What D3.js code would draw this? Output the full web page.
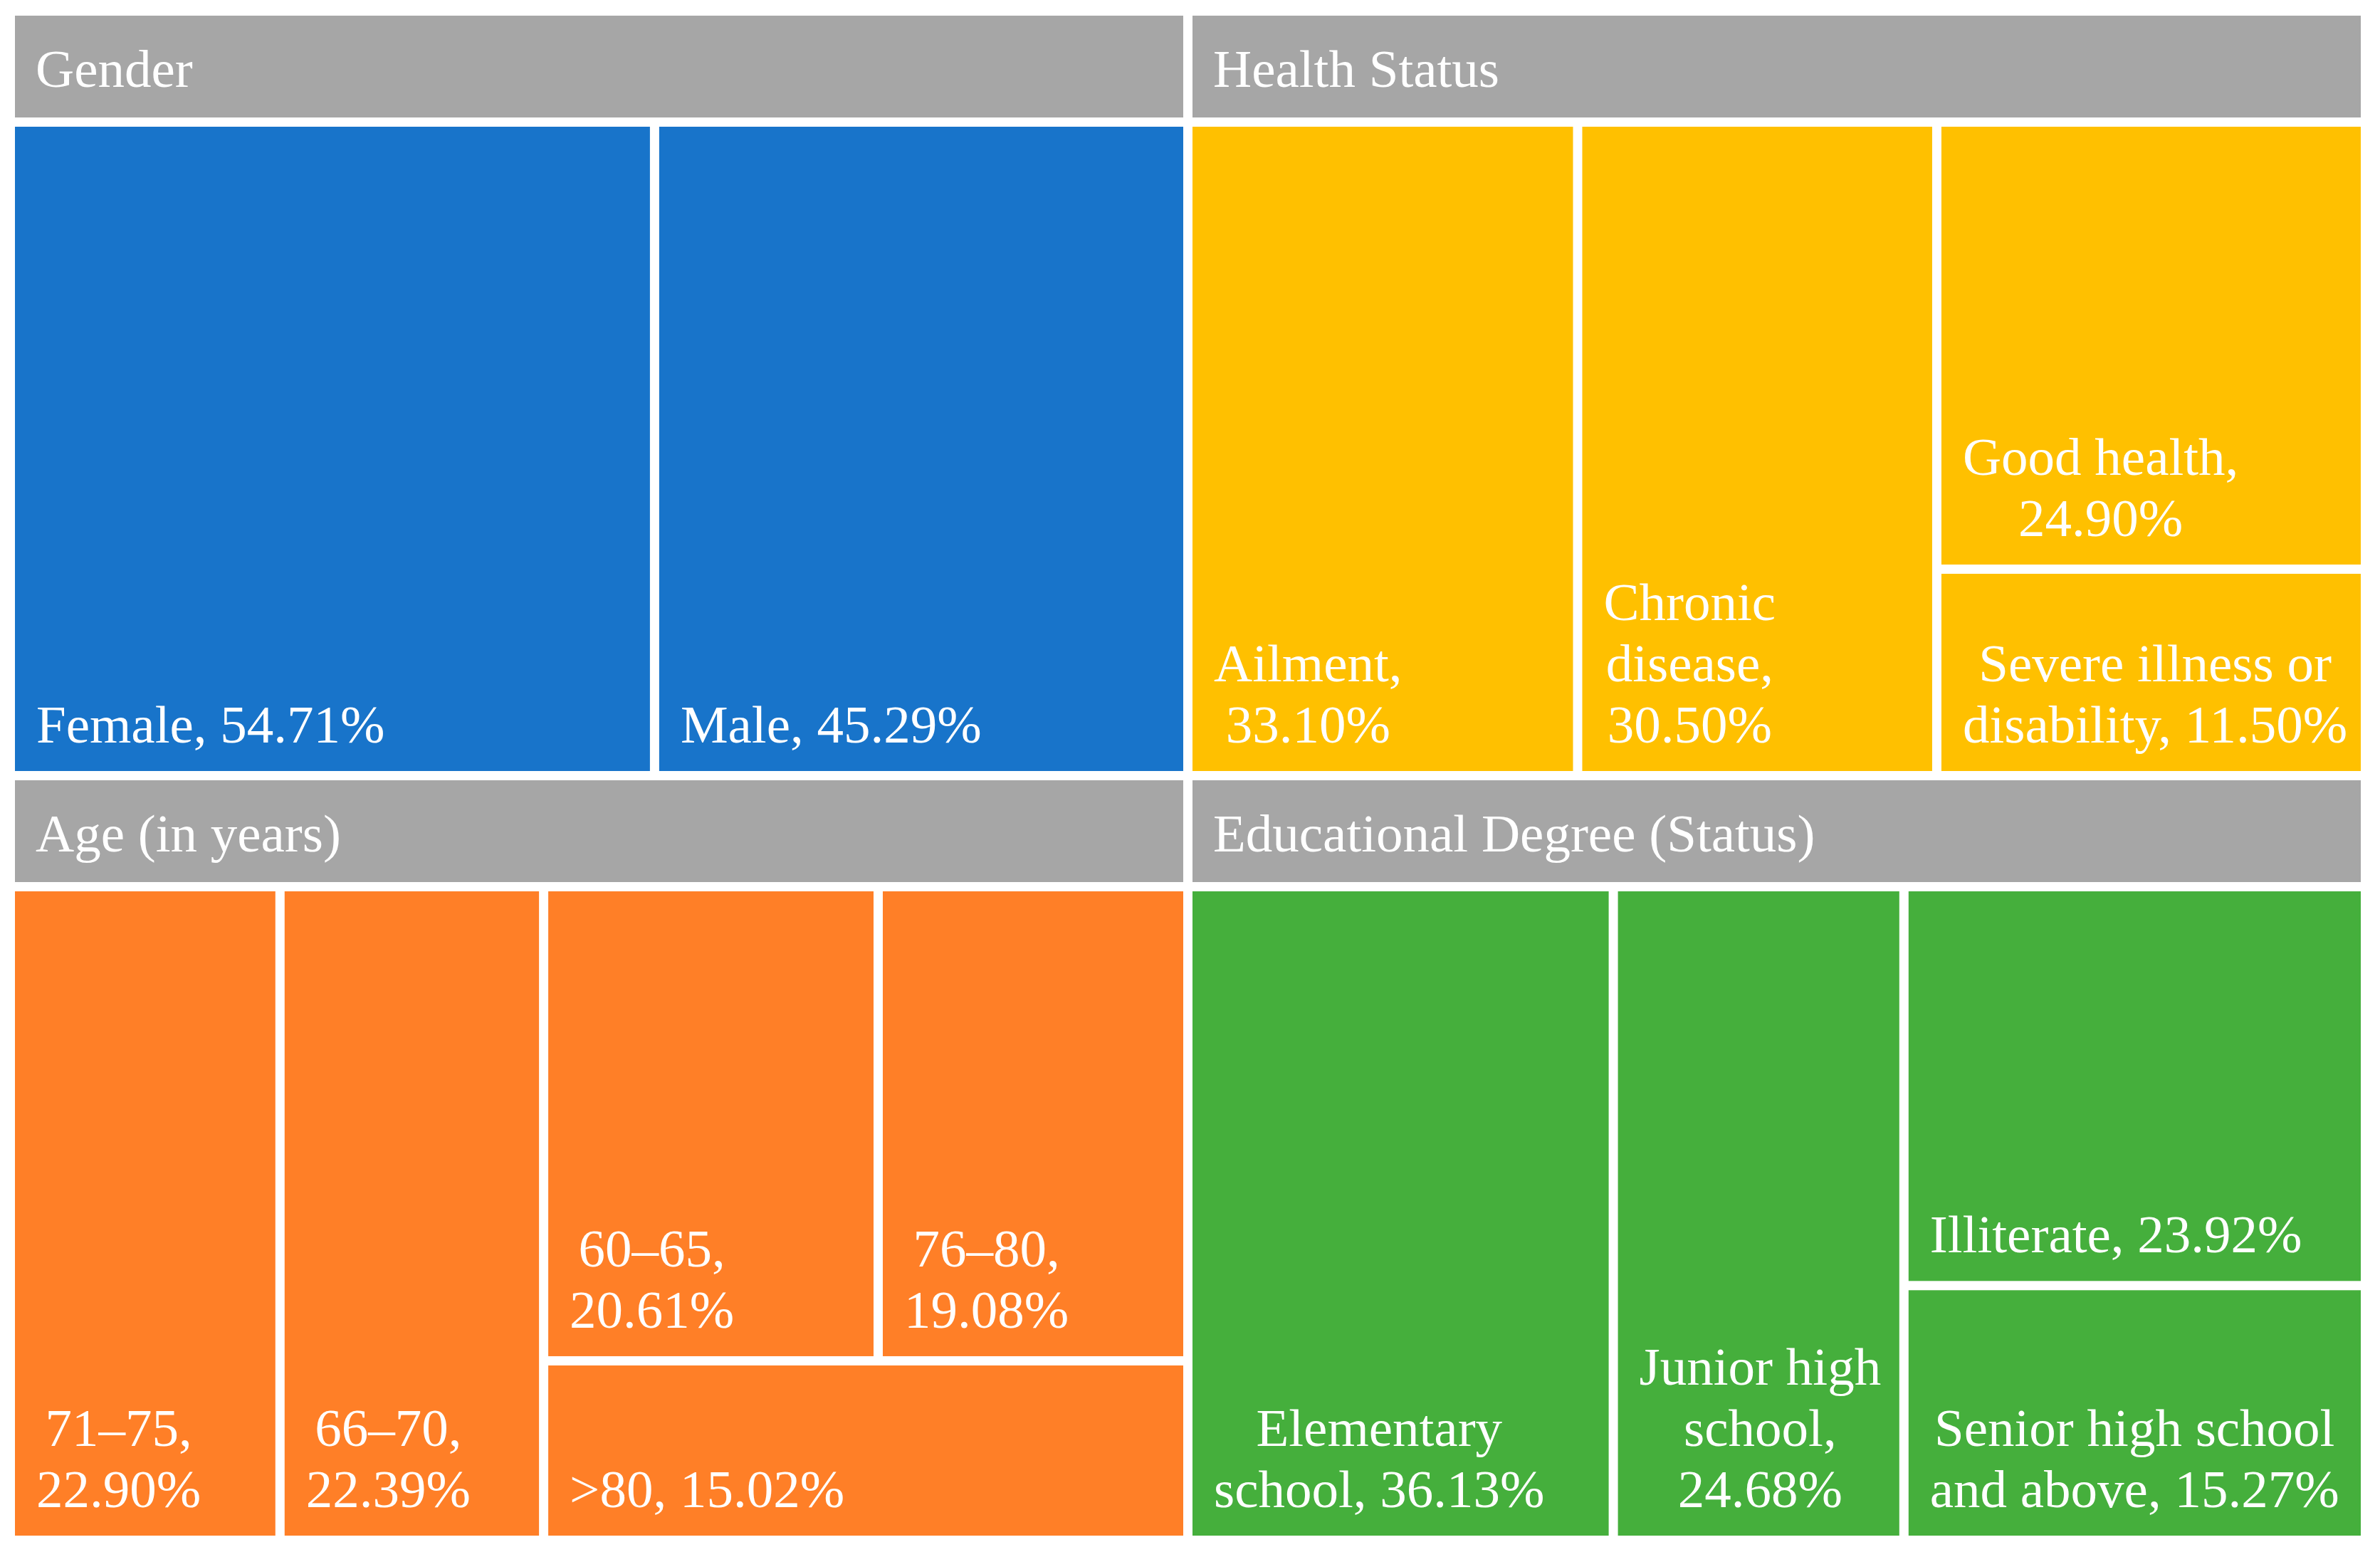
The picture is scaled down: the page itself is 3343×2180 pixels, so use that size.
<!DOCTYPE html>
<html>
<head>
<meta charset="utf-8">
<script src="https://cdn.jsdelivr.net/npm/d3@7"></script>
<style>
  body { margin: 0; background: #fff; }
  svg { display: block; }
</style>
</head>
<body>
<svg id="chart" width="3343" height="2180"></svg>
<script>
// group names, in the order the treemap places them
var groups = ['Gender', 'Age (in years)', 'Health Status', 'Educational Degree (Status)'];
var groupColors = ['#1874CA', '#FF7F27', '#FFC000', '#45AF3C'];

var genderLabels = ['Female', 'Male'];
var genderValues = [54.71, 45.29];

var ageLabels = ['71\u201375', '66\u201370', '60\u201365', '76\u201380', '>80'];
var ageValues = [22.90, 22.39, 20.61, 19.08, 15.02];

var healthLabels = ['Ailment', 'Chronic disease', 'Good health', 'Severe illness or disability'];
var healthValues = [33.10, 30.50, 24.90, 11.50];

var eduLabels = ['Elementary school', 'Junior high school', 'Illiterate', 'Senior high school and above'];
var eduValues = [36.13, 24.68, 23.92, 15.27];

var allLabels = [genderLabels, ageLabels, healthLabels, eduLabels];
var allValues = [genderValues, ageValues, healthValues, eduValues];

var width = 3343, height = 2180;
var margin = {top: 22, right: 27, bottom: 23, left: 21};
var headerH = 143, gap = 13;
var fontSize = 75, lineH = 86, pad = 30;

// d3's squarify clamps ratio to >= 1, excel seems to prefer taller strips,
// so same algorithm with a ratio below 1
function squarifyR(ratio) {
  return function(parent, x0, y0, x1, y1) {
    var nodes = parent.children, i0 = 0, i1 = 0, n = nodes.length, value = parent.value;
    while (i0 < n) {
      var dx = x1 - x0, dy = y1 - y0, sumValue, nodeValue;
      do sumValue = nodes[i1++].value; while (!sumValue && i1 < n);
      var minValue = sumValue, maxValue = sumValue;
      var alpha = Math.max(dy / dx, dx / dy) / (value * ratio);
      var beta = sumValue * sumValue * alpha;
      var minRatio = Math.max(maxValue / beta, beta / minValue);
      for (; i1 < n; ++i1) {
        sumValue += nodeValue = nodes[i1].value;
        if (nodeValue < minValue) minValue = nodeValue;
        if (nodeValue > maxValue) maxValue = nodeValue;
        beta = sumValue * sumValue * alpha;
        var newRatio = Math.max(maxValue / beta, beta / minValue);
        if (newRatio > minRatio) { sumValue -= nodeValue; break; }
        minRatio = newRatio;
      }
      var row = {value: sumValue, children: nodes.slice(i0, i1)};
      if (dx < dy) d3.treemapDice(row, x0, y0, x1, dy ? y0 += dy * sumValue / value : y1);
      else d3.treemapSlice(row, x0, y0, dx ? x0 += dx * sumValue / value : x1, y1);
      value -= sumValue;
      i0 = i1;
    }
  };
}

var svg = d3.select('#chart');
svg.append('rect').attr('width', width).attr('height', height).attr('fill', '#fff');

var data = {
  name: 'root',
  children: groups.map(function(g, i) {
    return {
      name: g, gi: i,
      children: allLabels[i].map(function(l, j) {
        return {name: l, value: allValues[i][j], gi: i};
      })
    };
  })
};

var root = d3.hierarchy(data).sum(function(d) { return d.value || 0; });

d3.treemap()
  .tile(squarifyR(0.785))
  .size([width - margin.left - margin.right, height - margin.top - margin.bottom])
  .paddingInner(gap)
  .paddingTop(function(d) { return d.depth === 1 ? headerH + gap : 0; })(root);

var g = svg.append('g').attr('transform', 'translate(' + margin.left + ',' + margin.top + ')');

var font = '"Liberation Serif", "Times New Roman", serif';

// headers
var heads = g.selectAll('.head').data(root.children).enter().append('g').attr('class', 'head');
heads.append('rect')
  .attr('x', function(d) { return d.x0; })
  .attr('y', function(d) { return d.y0; })
  .attr('width', function(d) { return d.x1 - d.x0; })
  .attr('height', headerH)
  .attr('fill', '#A6A6A6');
heads.append('text')
  .attr('x', function(d) { return d.x0 + 29; })
  .attr('y', function(d) { return d.y0 + 100; })
  .attr('fill', '#fff')
  .style('font-family', font)
  .style('font-size', fontSize + 'px')
  .text(function(d) { return d.data.name; });

// leaves
var leaves = g.selectAll('.leaf').data(root.leaves()).enter().append('g').attr('class', 'leaf');
leaves.append('rect')
  .attr('x', function(d) { return d.x0; })
  .attr('y', function(d) { return d.y0; })
  .attr('width', function(d) { return d.x1 - d.x0; })
  .attr('height', function(d) { return d.y1 - d.y0; })
  .attr('fill', function(d) { return groupColors[d.data.gi]; });

// measuring helper
var measurer = g.append('text').style('font-family', font).style('font-size', fontSize + 'px');
function textW(s) { measurer.text(s); return measurer.node().getComputedTextLength(); }

function wrap(str, maxW) {
  var words = str.split(' '), lines = [], cur = '';
  words.forEach(function(w) {
    var test = cur ? cur + ' ' + w : w;
    if (cur && textW(test) > maxW) { lines.push(cur); cur = w; }
    else cur = test;
  });
  if (cur) lines.push(cur);
  return lines;
}

leaves.each(function(d) {
  var label = d.data.name + ', ' + d.data.value.toFixed(2) + '%';
  var lines = wrap(label, d.x1 - d.x0 - 30);
  var widths = lines.map(textW);
  var blockW = d3.max(widths);
  var n = lines.length;
  var sel = d3.select(this);
  lines.forEach(function(l, i) {
    sel.append('text')
      .attr('x', d.x0 + pad + (blockW - widths[i]) / 2)
      .attr('y', d.y1 - 40 - (n - 1 - i) * lineH)
      .attr('fill', '#fff')
      .style('font-family', font)
      .style('font-size', fontSize + 'px')
      .text(l);
  });
});
measurer.remove();
</script>
</body>
</html>
